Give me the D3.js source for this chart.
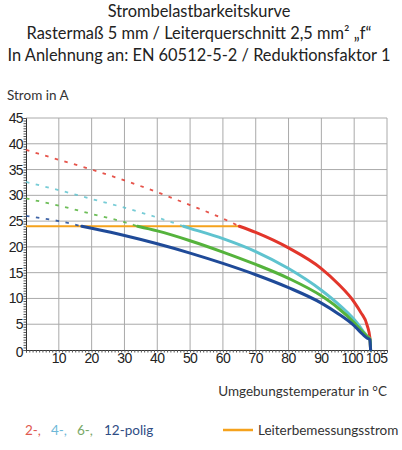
<!DOCTYPE html>
<html lang="de">
<head>
<meta charset="UTF-8">
<title>Strombelastbarkeitskurve</title>
<style>
  html, body { margin: 0; padding: 0; background: #fff; }
  svg { display: block; }
  .title { font-family: Lato, "Noto Sans", sans-serif; font-size: 16.4px; fill: #222; }
  .lbl { font-family: Lato, "Noto Sans", sans-serif; font-size: 13.5px; fill: #333; }
</style>
</head>
<body>
<div id="chart"></div>
<script src="https://d3js.org/d3.v7.min.js"></script>
<script>
// values (temperature in °C, current in A)
const titleLines = [
  "Strombelastbarkeitskurve",
  "Rastermaß 5 mm / Leiterquerschnitt 2,5 mm² „f“",
  "In Anlehnung an: EN 60512-5-2 / Reduktionsfaktor 1"
];
const xTicks = [10, 20, 30, 40, 50, 60, 70, 80, 90, 100, 105];
const yTicks = [0, 5, 10, 15, 20, 25, 30, 35, 40, 45];
const gridX = [10, 20, 30, 40, 50, 60, 70, 80, 90, 100];

const ratedCurrent = 24;
const ratedTemp = [0, 65];

const pol2Temp = [0, 10, 20, 30, 40, 50, 60, 65, 70, 80, 90, 95, 100, 102, 104, 104.8, 105];
const pol2Amp  = [38.8, 36.9, 35.0, 32.9, 30.6, 28.1, 25.5, 24.0, 22.8, 19.8, 15.8, 12.9, 9.3, 7.3, 4.7, 2.3, 0];

const pol4Temp = [0, 10, 20, 30, 40, 48, 50, 60, 70, 80, 90, 95, 100, 102, 103, 104, 104.8, 105];
const pol4Amp  = [32.6, 31.0, 29.3, 27.6, 25.7, 24.0, 23.6, 21.6, 19.1, 15.8, 11.6, 9.0, 5.9, 4.3, 3.4, 2.6, 2.1, 0];

const pol6Temp = [0, 10, 20, 30, 34, 40, 50, 60, 70, 80, 90, 95, 100, 102, 104, 104.8, 105];
const pol6Amp  = [29.4, 28.0, 26.4, 24.8, 24.0, 23.1, 21.2, 19.0, 16.6, 13.9, 10.5, 8.2, 5.3, 3.9, 2.6, 2.1, 0];

const pol12Temp = [0, 10, 17, 20, 30, 40, 50, 60, 70, 80, 90, 95, 100, 102, 103, 104, 104.8, 105];
const pol12Amp  = [26.0, 25.0, 24.0, 23.6, 22.2, 20.6, 18.8, 16.8, 14.6, 12.1, 9.1, 7.1, 4.7, 3.4, 2.8, 2.3, 2.0, 0];

const seriesNames = ["2-,", "4-,", "6-,", "12-polig"];
const seriesColors = ["#e2362b", "#5fc3cf", "#55b33c", "#1f4a98"];
const legendColors = ["#e05a4f", "#6db8d8", "#79a866", "#2f4d84"];

const series = [
  { t: pol2Temp, a: pol2Amp },
  { t: pol4Temp, a: pol4Amp },
  { t: pol6Temp, a: pol6Amp },
  { t: pol12Temp, a: pol12Amp }
];

const W = 402, H = 450;
const svg = d3.select("#chart").append("svg").attr("width", W).attr("height", H);

// title
svg.selectAll("text.title").data(titleLines).enter().append("text")
  .attr("class", "title")
  .attr("x", W / 2 - 2)
  .attr("y", (d, i) => 17 + i * 22)
  .attr("text-anchor", "middle")
  .text(d => d);

svg.append("text").attr("class", "lbl").attr("x", 7).attr("y", 100).text("Strom in A");

const x = d3.scaleLinear().domain([0, 110]).range([26, 387]);
const y = d3.scaleLinear().domain([0, 45]).range([350, 118]);

// grid
const grid = svg.append("g").attr("stroke", "#aaa").attr("stroke-width", 1);
grid.selectAll("line.gx").data(gridX.concat([110])).enter().append("line")
  .attr("x1", d => x(d)).attr("x2", d => x(d))
  .attr("y1", y(0)).attr("y2", y(45));
grid.selectAll("line.gy").data(yTicks.filter(v => v > 0)).enter().append("line")
  .attr("x1", x(0)).attr("x2", x(110))
  .attr("y1", d => y(d)).attr("y2", d => y(d));

// axes with minor ticks
svg.append("g").attr("transform", `translate(0,${y(0)})`)
  .call(d3.axisBottom(x).ticks(110).tickSize(2.5).tickFormat(""))
  .call(g => g.select(".domain").attr("stroke", "#333"))
  .call(g => g.selectAll(".tick line").attr("stroke", "#555"));
svg.append("g").attr("transform", `translate(${x(0)},0)`)
  .call(d3.axisLeft(y).ticks(90).tickSize(2.5).tickFormat(""))
  .call(g => g.select(".domain").attr("stroke", "#333"))
  .call(g => g.selectAll(".tick line").attr("stroke", "#555"));

// tick labels
svg.append("g").selectAll("text").data(xTicks).enter().append("text")
  .attr("x", d => x(d) + (d === 105 ? 6 : (d === 100 ? -2 : 0)))
  .attr("y", 363)
  .attr("text-anchor", "middle")
  .style("font-family", "'Liberation Sans', Arial, sans-serif")
  .style("font-size", "14px").style("letter-spacing", "-0.6px")
  .attr("fill", "#222")
  .text(d => d);
svg.append("g").selectAll("text").data(yTicks).enter().append("text")
  .attr("x", 23)
  .attr("y", d => y(d) + 5 + (d === 0 ? 2 : 0))
  .attr("text-anchor", "end")
  .style("font-family", "'Liberation Sans', Arial, sans-serif")
  .style("font-size", "14px").style("letter-spacing", "-0.6px")
  .attr("fill", "#222")
  .text(d => d);

// rated current line
svg.append("line")
  .attr("x1", x(ratedTemp[0])).attr("x2", x(ratedTemp[1]))
  .attr("y1", y(ratedCurrent)).attr("y2", y(ratedCurrent))
  .attr("stroke", "#f5a21c").attr("stroke-width", 2);

const line = d3.line().x(d => x(d[0])).y(d => y(d[1])).curve(d3.curveMonotoneX);

series.forEach((s, i) => {
  const pts = s.t.map((t, k) => [t, s.a[k]]);
  const dashed = pts.filter(p => p[1] >= ratedCurrent);
  const solid = pts.filter(p => p[1] <= ratedCurrent);
  svg.append("path").datum(dashed)
    .attr("d", line).attr("fill", "none")
    .attr("stroke", seriesColors[i]).attr("stroke-width", 1.8)
    .attr("stroke-dasharray", "3.5,6.5").attr("opacity", 0.85);
  svg.append("path").datum(solid)
    .attr("d", line).attr("fill", "none")
    .attr("stroke", seriesColors[i]).attr("stroke-width", 3)
    .attr("stroke-linecap", "round");
});

// x axis title
svg.append("text").attr("class", "lbl")
  .attr("x", 387).attr("y", 396).attr("text-anchor", "end")
  .text("Umgebungstemperatur in °C");

// legend
const legX = [25, 51, 77, 104];
svg.append("g").selectAll("text").data(seriesNames).enter().append("text")
  .attr("class", "lbl")
  .attr("x", (d, i) => legX[i]).attr("y", 435)
  .style("fill", (d, i) => legendColors[i])
  .text(d => d);
svg.append("line").attr("x1", 223).attr("x2", 253).attr("y1", 430).attr("y2", 430)
  .attr("stroke", "#f5a21c").attr("stroke-width", 2.5);
svg.append("text").attr("class", "lbl").attr("x", 258).attr("y", 435)
  .text("Leiterbemessungsstrom");
</script>
</body>
</html>
